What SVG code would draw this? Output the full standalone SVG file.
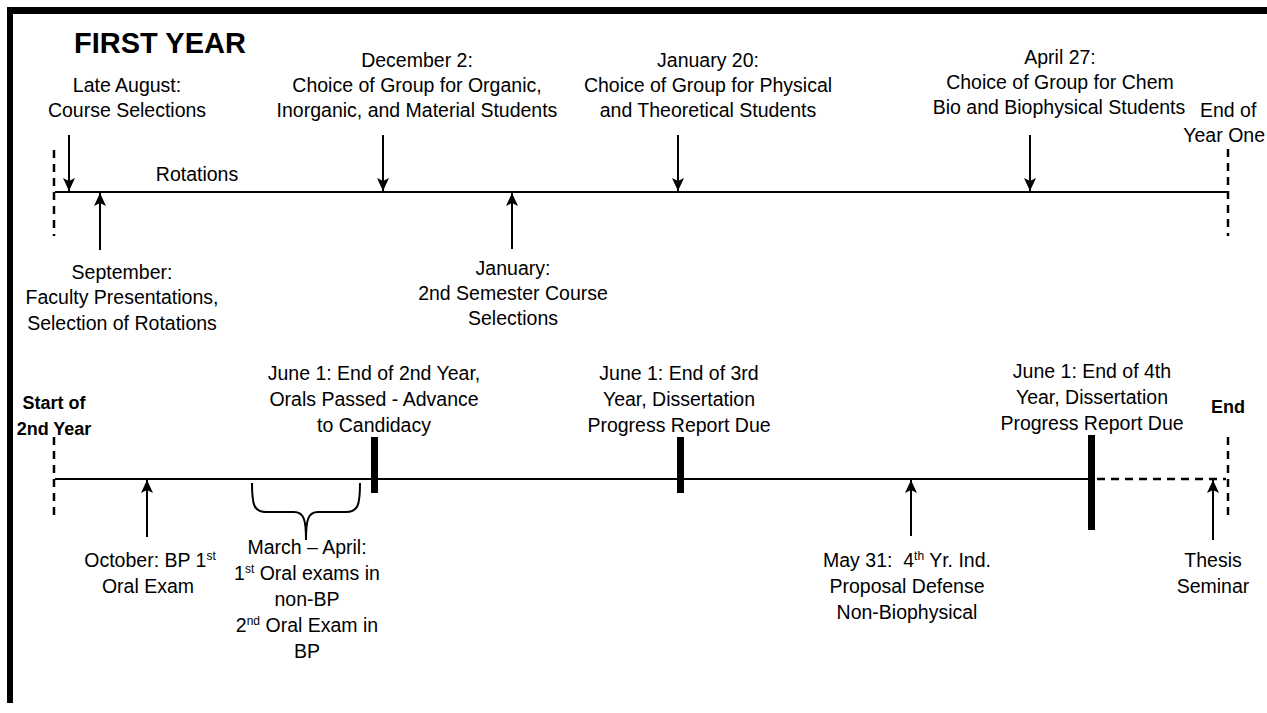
<svg xmlns="http://www.w3.org/2000/svg" width="1267" height="713" viewBox="0 0 1267 713">
<defs>
<style>
text{font-family:"Liberation Sans",Arial,sans-serif;font-size:19.5px;fill:#000;text-anchor:middle}
.b{font-weight:bold;font-size:18px}
.t{font-size:29px;font-weight:bold;text-anchor:start}
.s{text-anchor:start}
.e{text-anchor:end}
.sup{font-size:12px}
.ln{stroke:#000;stroke-width:2;fill:none}
.dash{stroke:#000;stroke-width:2.5;stroke-dasharray:8,6;fill:none}
.bar{fill:#000}
.arr{stroke:#000;stroke-width:2;fill:none;marker-end:url(#ah)}
</style>
<marker id="ah" markerUnits="userSpaceOnUse" markerWidth="14" markerHeight="13" refX="13" refY="6.5" orient="auto">
<path d="M0,0.5 L13,6.5 L0,12.5 L3,6.5 z" fill="#000"/>
</marker>
</defs>
<rect width="1267" height="713" fill="#fff"/>
<g id="frame">
<rect x="7" y="7" width="1260" height="7" class="bar"/>
<rect x="7" y="7" width="6" height="696" class="bar"/>
</g>
<text class="t" x="74" y="53">FIRST YEAR</text>
<g id="connectors">
<line class="ln" x1="55" y1="192" x2="1228" y2="192"/>
<line class="dash" x1="54" y1="150" x2="54" y2="236"/>
<line class="dash" x1="1228" y1="149" x2="1228" y2="236"/>
<line class="arr" x1="69" y1="135" x2="69" y2="191"/>
<line class="arr" x1="383" y1="135" x2="383" y2="191"/>
<line class="arr" x1="678" y1="135" x2="678" y2="191"/>
<line class="arr" x1="1030" y1="135" x2="1030" y2="191"/>
<line class="arr" x1="100" y1="250" x2="100" y2="193"/>
<line class="arr" x1="512" y1="249" x2="512" y2="193"/>
<line class="ln" x1="55" y1="479" x2="1090" y2="479"/>
<line class="dash" x1="1097" y1="479" x2="1226" y2="479"/>
<line class="dash" x1="54" y1="437" x2="54" y2="521"/>
<line class="dash" x1="1228" y1="437" x2="1228" y2="521"/>
<line class="arr" x1="147" y1="537" x2="147" y2="480"/>
<line class="arr" x1="911" y1="536" x2="911" y2="480"/>
<line class="arr" x1="1213" y1="540" x2="1213" y2="480"/>
<path class="ln" d="M252,483 C252,505 254,512 266,512 L294,512 C304,512 306,520 306,540 C306,520 308,512 318,512 L346,512 C358,512 360,505 360,483"/>
</g>
<g id="bars">
<rect class="bar" x="371" y="437" width="7" height="56"/>
<rect class="bar" x="677" y="437" width="7" height="56"/>
<rect class="bar" x="1088" y="435" width="7" height="95"/>
</g>
<g id="n-late-august"><text x="127" y="92">Late August:</text><text x="127" y="117">Course Selections</text></g>
<g id="n-december"><text x="417" y="67">December 2:</text><text x="417" y="92">Choice of Group for Organic,</text><text x="417" y="117">Inorganic, and Material Students</text></g>
<g id="n-january20"><text x="708" y="67">January 20:</text><text x="708" y="92">Choice of Group for Physical</text><text x="708" y="117">and Theoretical Students</text></g>
<g id="n-april"><text x="1060" y="64">April 27:</text><text x="1060" y="89">Choice of Group for Chem</text><text x="1059" y="114">Bio and Biophysical Students</text></g>
<g id="n-end-year-one"><text class="s" x="1200" y="117">End of</text><text class="e" x="1265" y="142">Year One</text></g>
<g id="n-rotations"><text x="197" y="181">Rotations</text></g>
<g id="n-september"><text x="122" y="279">September:</text><text x="122" y="304">Faculty Presentations,</text><text x="122" y="330">Selection of Rotations</text></g>
<g id="n-january"><text x="513" y="275">January:</text><text x="513" y="300">2nd Semester Course</text><text x="513" y="325">Selections</text></g>
<g id="n-start"><text class="b" x="54" y="409">Start of</text><text class="b" x="54" y="435">2nd Year</text></g>
<g id="n-june2"><text x="374" y="380">June 1: End of 2nd Year,</text><text x="374" y="406">Orals Passed - Advance</text><text x="374" y="432">to Candidacy</text></g>
<g id="n-june3"><text x="679" y="380">June 1: End of 3rd</text><text x="679" y="406">Year, Dissertation</text><text x="679" y="432">Progress Report Due</text></g>
<g id="n-june4"><text x="1092" y="378">June 1: End of 4th</text><text x="1092" y="404">Year, Dissertation</text><text x="1092" y="430">Progress Report Due</text></g>
<g id="n-end"><text class="b" x="1228" y="413">End</text></g>
<g id="n-october"><text x="150" y="567">October: BP 1<tspan class="sup" dy="-7">st</tspan></text><text x="148" y="593">Oral Exam</text></g>
<g id="n-march"><text x="307" y="554">March – April:</text><text x="307" y="580">1<tspan class="sup" dy="-7">st</tspan><tspan dy="7"> Oral exams in</tspan></text><text x="307" y="606">non-BP</text><text x="307" y="632">2<tspan class="sup" dy="-7">nd</tspan><tspan dy="7"> Oral Exam in</tspan></text><text x="307" y="658">BP</text></g>
<g id="n-may31"><text x="907" y="567">May 31:&#160; 4<tspan class="sup" dy="-7">th</tspan><tspan dy="7"> Yr. Ind.</tspan></text><text x="907" y="593">Proposal Defense</text><text x="907" y="619">Non-Biophysical</text></g>
<g id="n-thesis"><text x="1213" y="567">Thesis</text><text x="1213" y="593">Seminar</text></g>
</svg>
